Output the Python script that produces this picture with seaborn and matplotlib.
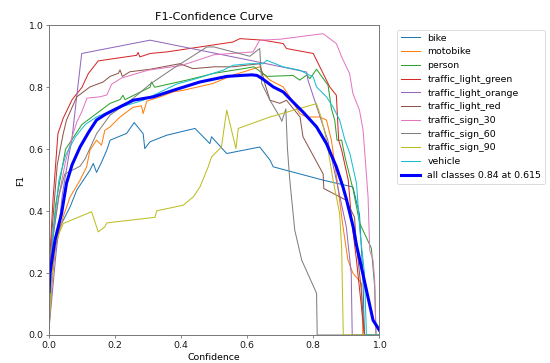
import matplotlib
matplotlib.use("Agg")
import matplotlib.pyplot as plt
import seaborn as sns
import numpy as np

# Per-class F1 vs confidence curves (x = confidence, y = F1)
bike_x = [0.0, 0.01, 0.02, 0.033, 0.064, 0.084, 0.104, 0.124, 0.134, 0.144, 0.16, 0.175, 0.185, 0.235, 0.258, 0.285, 0.29, 0.306, 0.356, 0.442, 0.487, 0.492, 0.538, 0.638, 0.669, 0.679, 0.83, 0.92, 0.94, 0.95, 0.955, 1.0]
bike_y = [0.05, 0.2, 0.29, 0.349, 0.414, 0.468, 0.5, 0.532, 0.554, 0.525, 0.56, 0.597, 0.629, 0.651, 0.686, 0.65, 0.602, 0.624, 0.645, 0.667, 0.618, 0.64, 0.586, 0.607, 0.565, 0.543, 0.5, 0.478, 0.39, 0.2, 0.0, 0.0]

motobike_x = [0.0, 0.01, 0.018, 0.043, 0.064, 0.094, 0.114, 0.124, 0.144, 0.159, 0.169, 0.185, 0.215, 0.254, 0.28, 0.285, 0.296, 0.336, 0.376, 0.406, 0.496, 0.557, 0.638, 0.648, 0.669, 0.709, 0.729, 0.759, 0.78, 0.82, 0.84, 0.855, 0.872, 0.89, 0.905, 0.92, 0.946, 0.95, 1.0]
motobike_y = [0.02, 0.18, 0.274, 0.382, 0.446, 0.5, 0.543, 0.597, 0.629, 0.613, 0.661, 0.672, 0.704, 0.735, 0.74, 0.715, 0.755, 0.769, 0.785, 0.79, 0.812, 0.839, 0.866, 0.844, 0.823, 0.801, 0.769, 0.715, 0.704, 0.704, 0.694, 0.629, 0.5, 0.35, 0.242, 0.2, 0.167, 0.0, 0.0]

person_x = [0.0, 0.01, 0.02, 0.05, 0.1, 0.15, 0.185, 0.215, 0.224, 0.23, 0.306, 0.31, 0.32, 0.417, 0.5, 0.6, 0.62, 0.66, 0.739, 0.759, 0.78, 0.79, 0.81, 0.845, 0.855, 0.865, 0.872, 0.886, 0.896, 0.921, 0.941, 0.976, 0.986, 0.99, 1.0]
person_y = [0.08, 0.3, 0.42, 0.6, 0.68, 0.72, 0.748, 0.76, 0.774, 0.76, 0.8, 0.817, 0.8, 0.823, 0.845, 0.862, 0.866, 0.835, 0.838, 0.823, 0.839, 0.828, 0.858, 0.806, 0.731, 0.694, 0.629, 0.629, 0.575, 0.468, 0.36, 0.28, 0.156, 0.0, 0.0]

tl_green_x = [0.0, 0.005, 0.012, 0.027, 0.043, 0.07, 0.1, 0.119, 0.149, 0.2, 0.265, 0.27, 0.275, 0.306, 0.356, 0.557, 0.578, 0.648, 0.709, 0.719, 0.8, 0.82, 0.85, 0.87, 0.877, 0.886, 0.906, 0.916, 0.93, 0.945, 0.955, 1.0]
tl_green_y = [0.2, 0.3, 0.435, 0.65, 0.7, 0.76, 0.8, 0.844, 0.885, 0.893, 0.903, 0.912, 0.898, 0.909, 0.914, 0.946, 0.957, 0.952, 0.941, 0.925, 0.909, 0.866, 0.801, 0.774, 0.629, 0.597, 0.5, 0.371, 0.25, 0.1, 0.0, 0.0]

tl_orange_x = [0.0, 0.02, 0.04, 0.06, 0.069, 0.085, 0.099, 0.306, 0.608, 0.78, 0.784, 0.844, 0.87, 0.9, 0.915, 0.918, 1.0]
tl_orange_y = [0.02, 0.25, 0.45, 0.58, 0.629, 0.78, 0.909, 0.952, 0.887, 0.849, 0.823, 0.629, 0.5, 0.35, 0.2, 0.0, 0.0]

tl_red_x = [0.0, 0.01, 0.025, 0.043, 0.053, 0.084, 0.124, 0.164, 0.185, 0.21, 0.215, 0.222, 0.245, 0.306, 0.396, 0.436, 0.5, 0.557, 0.638, 0.654, 0.669, 0.699, 0.719, 0.76, 0.769, 0.83, 0.832, 0.9, 0.925, 0.93, 0.945, 0.955, 1.0]
tl_red_y = [0.15, 0.35, 0.55, 0.65, 0.694, 0.769, 0.801, 0.817, 0.835, 0.845, 0.856, 0.835, 0.85, 0.858, 0.876, 0.86, 0.866, 0.866, 0.876, 0.81, 0.758, 0.748, 0.758, 0.704, 0.64, 0.52, 0.473, 0.435, 0.38, 0.3, 0.15, 0.0, 0.0]

ts30_x = [0.0, 0.01, 0.03, 0.05, 0.07, 0.085, 0.099, 0.115, 0.154, 0.175, 0.19, 0.22, 0.3, 0.4, 0.5, 0.618, 0.638, 0.699, 0.83, 0.87, 0.886, 0.91, 0.92, 0.94, 0.951, 0.966, 0.971, 0.981, 0.986, 0.99, 1.0]
ts30_y = [0.1, 0.3, 0.45, 0.56, 0.64, 0.69, 0.72, 0.765, 0.769, 0.775, 0.81, 0.83, 0.855, 0.87, 0.905, 0.914, 0.952, 0.955, 0.973, 0.941, 0.898, 0.844, 0.78, 0.726, 0.66, 0.446, 0.274, 0.242, 0.177, 0.0, 0.0]

ts60_x = [0.0, 0.01, 0.03, 0.048, 0.094, 0.11, 0.144, 0.185, 0.25, 0.306, 0.375, 0.478, 0.5, 0.608, 0.638, 0.644, 0.669, 0.699, 0.705, 0.717, 0.722, 0.729, 0.744, 0.765, 0.81, 0.812, 1.0]
ts60_y = [0.1, 0.3, 0.45, 0.52, 0.545, 0.57, 0.65, 0.71, 0.76, 0.81, 0.86, 0.93, 0.93, 0.9, 0.925, 0.812, 0.758, 0.704, 0.69, 0.73, 0.6, 0.5, 0.339, 0.242, 0.135, 0.0, 0.0]

ts90_x = [0.0, 0.01, 0.02, 0.043, 0.129, 0.149, 0.169, 0.175, 0.321, 0.326, 0.406, 0.437, 0.457, 0.482, 0.492, 0.522, 0.538, 0.566, 0.573, 0.669, 0.81, 0.825, 0.84, 0.86, 0.88, 0.886, 0.891, 1.0]
ts90_y = [0.02, 0.2, 0.3, 0.36, 0.398, 0.333, 0.349, 0.362, 0.38, 0.401, 0.419, 0.446, 0.478, 0.543, 0.575, 0.607, 0.726, 0.602, 0.667, 0.704, 0.747, 0.7, 0.629, 0.5, 0.392, 0.28, 0.0, 0.0]

vehicle_x = [0.0, 0.01, 0.03, 0.05, 0.08, 0.11, 0.144, 0.2, 0.285, 0.386, 0.447, 0.527, 0.557, 0.608, 0.648, 0.659, 0.709, 0.759, 0.8, 0.81, 0.84, 0.86, 0.88, 0.896, 0.911, 0.931, 0.941, 0.955, 0.961, 1.0]
vehicle_y = [0.1, 0.3, 0.5, 0.58, 0.64, 0.68, 0.704, 0.73, 0.758, 0.81, 0.828, 0.855, 0.871, 0.876, 0.876, 0.887, 0.866, 0.855, 0.833, 0.801, 0.769, 0.736, 0.694, 0.629, 0.586, 0.489, 0.339, 0.2, 0.0, 0.0]

# Mean F1 over all classes
all_x = [0.0, 0.003, 0.018, 0.038, 0.053, 0.07, 0.094, 0.12, 0.144, 0.17, 0.195, 0.225, 0.255, 0.316, 0.376, 0.457, 0.538, 0.58, 0.615, 0.63, 0.648, 0.679, 0.709, 0.739, 0.769, 0.81, 0.84, 0.87, 0.89, 0.9, 0.921, 0.931, 0.941, 0.961, 0.981, 1.0]
all_y = [0.14, 0.2, 0.306, 0.392, 0.49, 0.55, 0.607, 0.655, 0.694, 0.712, 0.726, 0.742, 0.758, 0.769, 0.79, 0.817, 0.835, 0.838, 0.84, 0.838, 0.826, 0.801, 0.785, 0.752, 0.72, 0.672, 0.618, 0.543, 0.478, 0.44, 0.349, 0.29, 0.242, 0.145, 0.048, 0.016]

class_names = ["bike", "motobike", "person", "traffic_light_green", "traffic_light_orange",
               "traffic_light_red", "traffic_sign_30", "traffic_sign_60", "traffic_sign_90", "vehicle"]
class_curves = [(bike_x, bike_y), (motobike_x, motobike_y), (person_x, person_y),
                (tl_green_x, tl_green_y), (tl_orange_x, tl_orange_y), (tl_red_x, tl_red_y),
                (ts30_x, ts30_y), (ts60_x, ts60_y), (ts90_x, ts90_y), (vehicle_x, vehicle_y)]

plt.rcParams.update({
    "font.size": 11.1,
    "axes.titlesize": 13.3,
    "axes.edgecolor": "0.45",
    "axes.linewidth": 1.1,
    "xtick.color": "0.45",
    "ytick.color": "0.45",
    "xtick.labelcolor": "0.1",
    "ytick.labelcolor": "0.1",
    "xtick.major.width": 1.0,
    "ytick.major.width": 1.0,
})

dpi = 550 / 9
fig, ax = plt.subplots(figsize=(9, 363 / dpi), dpi=dpi)
fig.subplots_adjust(left=49 / 550, right=379.3 / 550, top=1 - 25.3 / 363, bottom=1 - 335 / 363)

palette = sns.color_palette("tab10", len(class_names))
for name, (xs, ys), col in zip(class_names, class_curves, palette):
    sns.lineplot(x=xs, y=ys, ax=ax, linewidth=1.2, color=col, label=name,
                 sort=False, estimator=None)

peak = int(np.argmax(all_y))
sns.lineplot(x=all_x, y=all_y, ax=ax, linewidth=3.6, color="blue",
             label=f"all classes {all_y[peak]:.2f} at {all_x[peak]:.3f}",
             sort=False, estimator=None)

ax.set_xlabel("Confidence")
ax.set_ylabel("F1")
ax.set_xlim(0, 1)
ax.set_ylim(0, 1)
ax.legend(bbox_to_anchor=(1.04, 1), loc="upper left")
ax.set_title("F1-Confidence Curve")

fig.savefig("out.png", dpi=dpi)
